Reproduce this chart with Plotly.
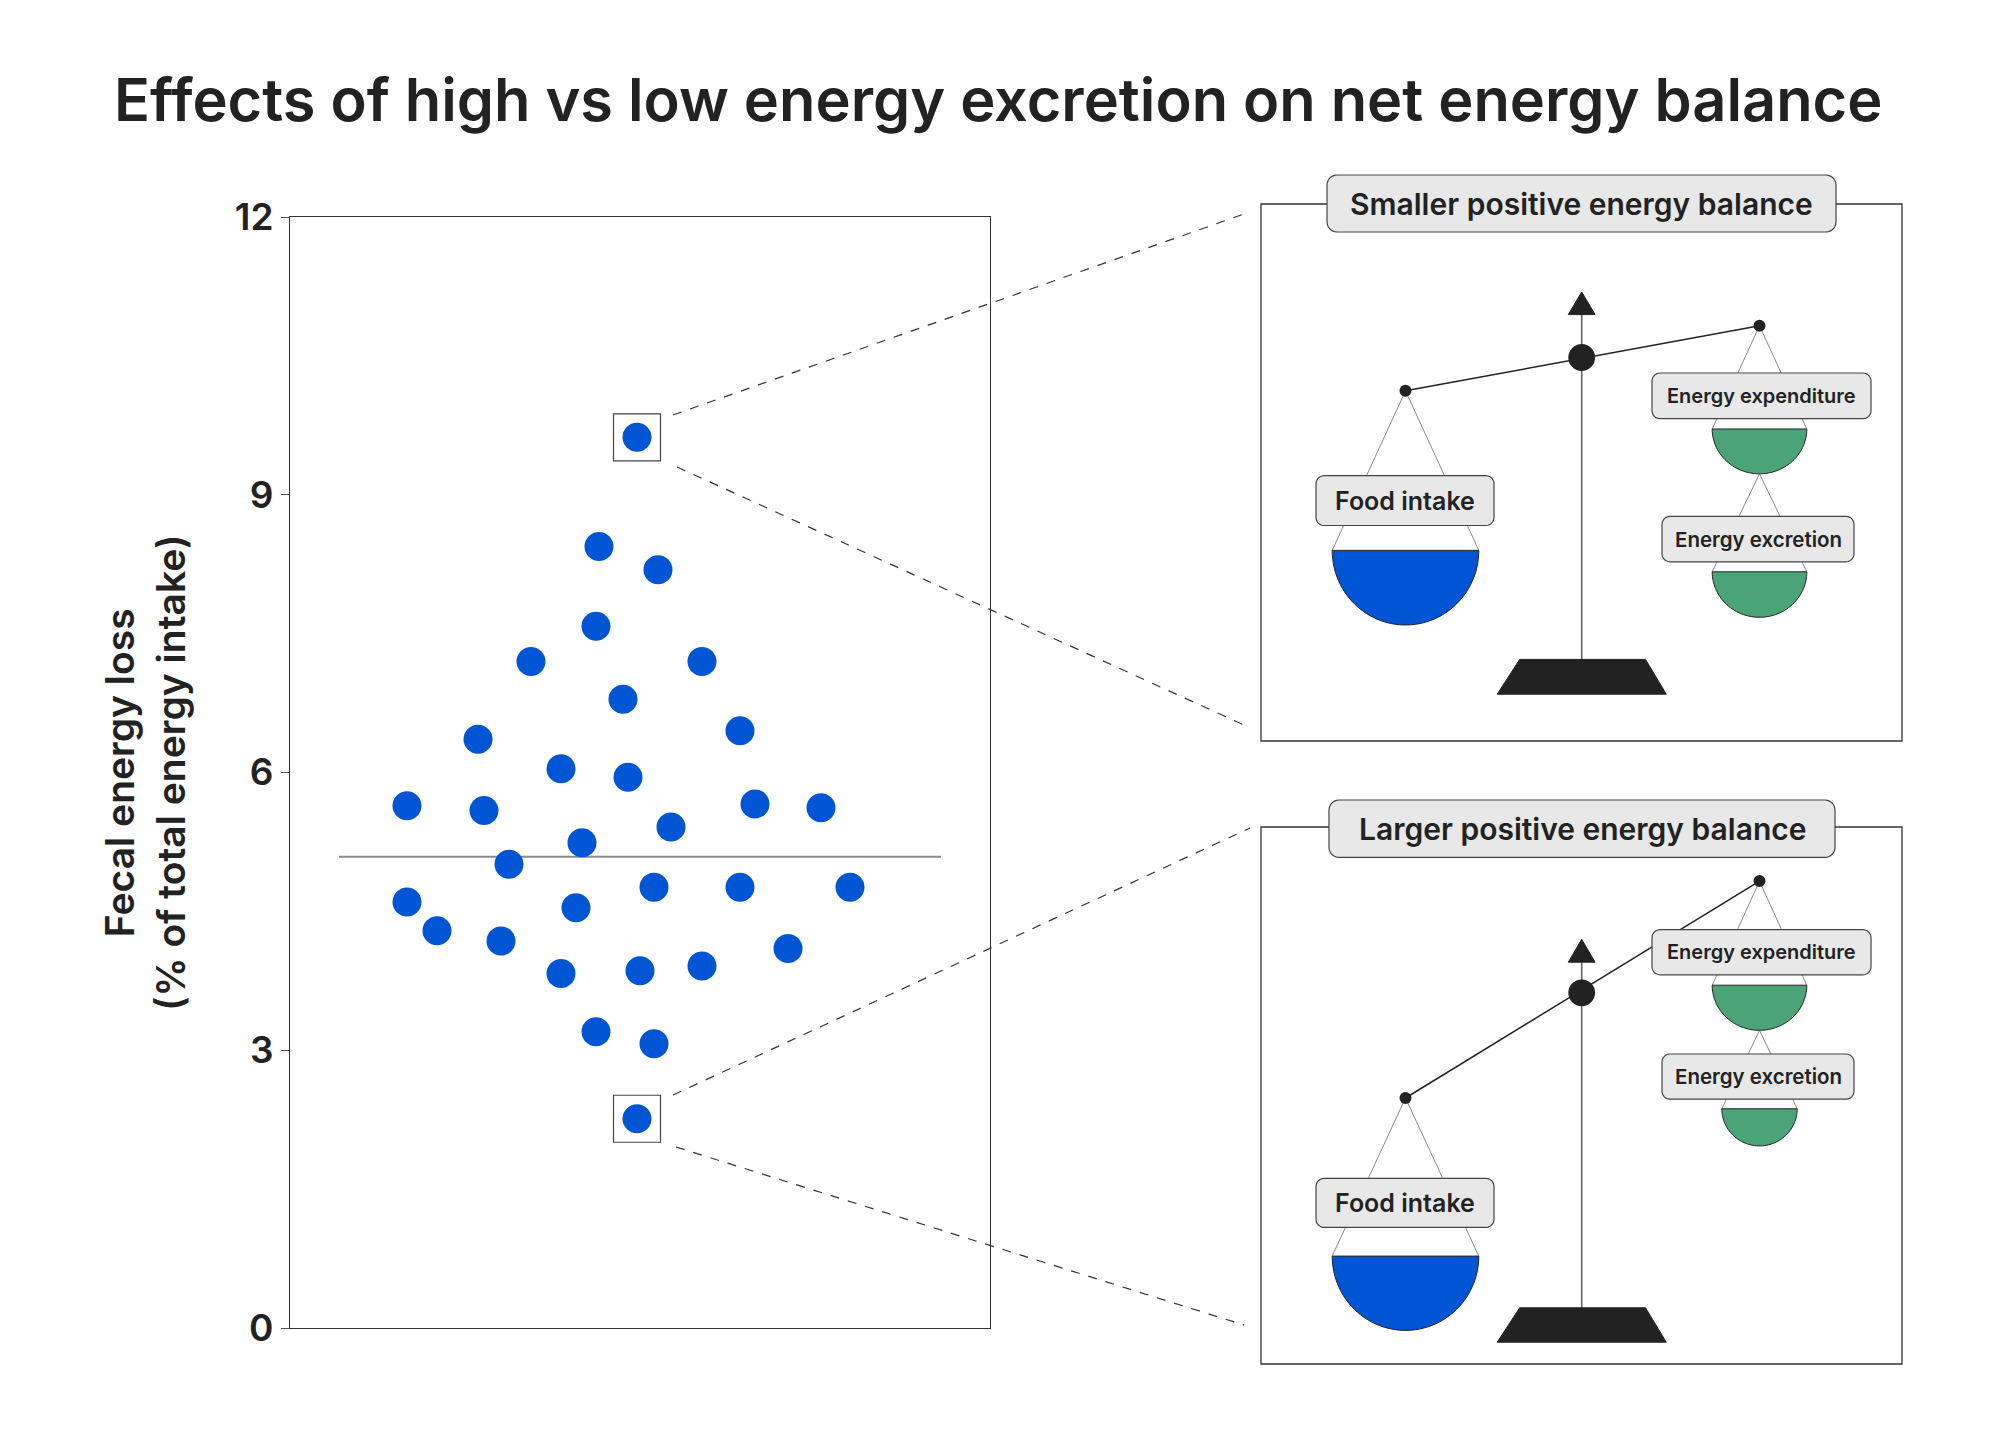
import numpy as np
import plotly.graph_objects as go

# --- data: fecal energy loss per participant (jitter x, loss y) ---
dot_x = [3.47, 3.09, 3.68, 3.06, 2.41, 4.12, 3.33, 1.88, 4.50, 2.71, 3.38,
         1.17, 1.94, 4.65, 5.31, 3.81, 2.92, 2.19, 1.17, 3.64, 4.50, 5.60,
         2.86, 1.47, 2.11, 4.98, 2.71, 3.50, 4.12, 3.06, 3.64, 3.47]
dot_y = [9.62, 8.44, 8.19, 7.58, 7.20, 7.20, 6.79, 6.36, 6.45, 6.04, 5.95,
         5.64, 5.59, 5.66, 5.62, 5.41, 5.24, 5.01, 4.60, 4.76, 4.76, 4.76,
         4.54, 4.29, 4.18, 4.10, 3.83, 3.86, 3.91, 3.20, 3.07, 2.26]
highlight_idx = [0, 31]          # the two boxed participants
ref_value = 5.09                 # horizontal reference line
ref_span = [0.49, 6.51]
y_ticks = [0, 3, 6, 9, 12]

title = "Effects of high vs low energy excretion on net energy balance"
y_title = "Fecal energy loss<br>(% of total energy intake)"
panel_titles = ["Smaller positive energy balance", "Larger positive energy balance"]
pan_labels = ["Food intake", "Energy expenditure", "Energy excretion"]

BLUE = "#0055d4"
GREEN = "#4ba478"
INK = "#222222"
FONT = "Inter, Lato, sans-serif"
W, H = 2000, 1440
OFF = 8  # page margin of the html body


def X(px):
    return (px - OFF) / W


def Y(py):
    return 1 - (py - OFF) / H


def seg(x0, y0, x1, y1, color=INK, width=1.2, dash=None):
    d = dict(type="line", xref="paper", yref="paper",
             x0=X(x0), y0=Y(y0), x1=X(x1), y1=Y(y1),
             line=dict(color=color, width=width))
    if dash:
        d["line"]["dash"] = dash
    return d


def poly(points, fill, line_color=INK, width=1):
    p = "M " + " L ".join(f"{X(a):.5f},{Y(b):.5f}" for a, b in points) + " Z"
    return dict(type="path", xref="paper", yref="paper", path=p,
                fillcolor=fill, line=dict(color=line_color, width=width))


def rrect(x0, y0, x1, y1, r=9, fill="#e8e8e8"):
    pts = []
    for cx, cy, a0 in [(x1 - r, y0 + r, -90), (x1 - r, y1 - r, 0),
                       (x0 + r, y1 - r, 90), (x0 + r, y0 + r, 180)]:
        for t in np.linspace(a0, a0 + 90, 7):
            pts.append((cx + r * np.cos(np.radians(t)), cy + r * np.sin(np.radians(t))))
    return poly(pts, fill, "#444444", 1.2)


def bowl(cx, rim, r, depth, fill):
    pts = [(cx + r * np.cos(np.radians(t)), rim + depth * np.sin(np.radians(t)))
           for t in np.linspace(0, 180, 60)]
    return poly(pts, fill, INK, 1)


def dot(cx, cy, r, fill=INK):
    return dict(type="circle", xref="paper", yref="paper",
                x0=X(cx - r), x1=X(cx + r), y0=Y(cy - r), y1=Y(cy + r),
                fillcolor=fill, line=dict(color=fill, width=0))


# --- balance illustrations (pixel geometry of the two panels) ---
panels = [
    dict(box=(1261, 204, 1902, 741), tbox=(1327, 175, 1836, 232),
         pivot=357.5, arrow=(292, 314.6), beamL=(1405.5, 390.8), beamR=(1759.5, 325.7),
         base=(659.4, 694.2), left=(550.4, 73.3, 74.6), lbl_food=(475.7, 525.5),
         r1=(429, 47.3, 44.8), lbl_exp=(373, 418.7), r2=(571.8, 47.3, 45.5),
         lbl_exc=(516.3, 561.8)),
    dict(box=(1261, 827, 1902, 1364), tbox=(1329, 800, 1835, 857.4),
         pivot=992.8, arrow=(939.3, 962.2), beamL=(1405.5, 1098), beamR=(1759.5, 881.1),
         base=(1307.8, 1342.2), left=(1256.1, 73.3, 74.3), lbl_food=(1178.4, 1227.4),
         r1=(985.2, 47.3, 45.1), lbl_exp=(929.7, 974.8), r2=(1108.8, 37.7, 37.1),
         lbl_exc=(1054, 1099.2)),
]
POLE_X = 1581.7
LBL_X = [(1316, 1494), (1652, 1871), (1662, 1854)]

shapes = []
annotations = []
for p, ptitle in zip(panels, panel_titles):
    bx0, by0, bx1, by1 = p["box"]
    shapes.append(dict(type="rect", xref="paper", yref="paper",
                       x0=X(bx0), x1=X(bx1), y0=Y(by1), y1=Y(by0),
                       line=dict(color="#333333", width=1.3)))
    # strings
    lx, ly = p["beamL"]
    rx, ry = p["beamR"]
    rim, r, dep = p["left"]
    shapes += [seg(lx, ly, lx - r, rim, "#8a8a8a", 1), seg(lx, ly, lx + r, rim, "#8a8a8a", 1)]
    rim1, r1, d1 = p["r1"]
    shapes += [seg(rx, ry, rx - r1, rim1, "#8a8a8a", 1), seg(rx, ry, rx + r1, rim1, "#8a8a8a", 1)]
    rim2, r2, d2 = p["r2"]
    shapes += [seg(rx, rim1 + d1, rx - r2, rim2, "#8a8a8a", 1),
               seg(rx, rim1 + d1, rx + r2, rim2, "#8a8a8a", 1)]
    # pole, arrow, base
    shapes.append(seg(POLE_X, p["arrow"][1], POLE_X, p["base"][0], "#666666", 1.6))
    shapes.append(poly([(POLE_X, p["arrow"][0]), (POLE_X + 13.4, p["arrow"][1]),
                        (POLE_X - 13.4, p["arrow"][1])], INK, INK, 1))
    bt, bb = p["base"]
    shapes.append(poly([(POLE_X - 62, bt), (POLE_X + 63.8, bt), (POLE_X + 84.6, bb),
                        (POLE_X - 84.5, bb)], INK, INK, 1))
    # beam
    shapes.append(seg(lx, ly, rx, ry, INK, 1.5))
    shapes += [dot(lx, ly, 6), dot(rx, ry, 6), dot(POLE_X, p["pivot"], 13.4)]
    # pans
    shapes.append(bowl(lx, rim, r, dep, BLUE))
    shapes.append(bowl(rx, rim1, r1, d1, GREEN))
    shapes.append(bowl(rx, rim2, r2, d2, GREEN))
    # labels
    tx0, ty0, tx1, ty1 = p["tbox"]
    shapes.append(rrect(tx0, ty0, tx1, ty1, 10))
    annotations.append(dict(x=X((tx0 + tx1) / 2), y=Y((ty0 + ty1) / 2), text=ptitle,
                            font=dict(size=30, color=INK, family=FONT, weight=600)))
    for (ya, yb), (xa, xb), txt, fs in zip(
            [p["lbl_food"], p["lbl_exp"], p["lbl_exc"]], LBL_X, pan_labels, [25, 20, 20.5]):
        shapes.append(rrect(xa, ya, xb, yb, 8))
        annotations.append(dict(x=X((xa + xb) / 2), y=Y((ya + yb) / 2), text=txt,
                                font=dict(size=fs, color=INK, family=FONT, weight=600)))

# dashed connectors from the boxed dots to the panels
shapes += [seg(673, 415, 1244, 214, "#333333", 1.2, "dash"),
           seg(677, 467, 1244, 725, "#333333", 1.2, "dash"),
           seg(673, 1095, 1250, 828, "#333333", 1.2, "dash"),
           seg(676, 1147, 1244, 1325, "#333333", 1.2, "dash")]

for a in annotations:
    a.update(xref="paper", yref="paper", showarrow=False, xanchor="center", yanchor="middle")

annotations.append(dict(x=X(998), y=Y(99), xref="paper", yref="paper", showarrow=False,
                        xanchor="center", yanchor="middle",
                        text=title, font=dict(size=59.5, color=INK, family=FONT, weight=600)))
annotations.append(dict(x=X(145), y=Y(773), xref="paper", yref="paper", showarrow=False,
                        xanchor="center", yanchor="middle",
                        text=y_title, textangle=-90,
                        font=dict(size=39, color=INK, family=FONT, weight=600)))

fig = go.Figure()
fig.add_trace(go.Scatter(x=ref_span, y=[ref_value, ref_value], mode="lines",
                         line=dict(color="#8c8c8c", width=2), hoverinfo="skip"))
fig.add_trace(go.Scatter(x=dot_x, y=dot_y, mode="markers",
                         marker=dict(size=29, color=BLUE, line=dict(width=0))))
fig.add_trace(go.Scatter(x=[dot_x[i] for i in highlight_idx], y=[dot_y[i] for i in highlight_idx],
                         mode="markers",
                         marker=dict(symbol="square-open", size=47,
                                     color="#444444", line=dict(width=1.2))))

fig.update_layout(
    width=W, height=H, showlegend=False,
    paper_bgcolor="white", plot_bgcolor="white",
    margin=dict(l=0, r=0, t=0, b=0, autoexpand=False),
    font=dict(family=FONT, color=INK),
    xaxis=dict(domain=[X(290), X(990)], range=[0, 7], showticklabels=False, ticks="",
               showgrid=False, zeroline=False, showline=True, mirror=True,
               linecolor="#333333", linewidth=1.2, fixedrange=True, automargin=False),
    yaxis=dict(domain=[Y(1328), Y(217)], range=[0, 12], tickvals=y_ticks,
               ticks="outside", ticklen=8, tickcolor="#555555",
               tickfont=dict(size=37, color=INK, family=FONT, weight=600),
               showgrid=False, zeroline=False, showline=True, mirror=True,
               linecolor="#333333", linewidth=1.2, automargin=False),
    shapes=shapes,
    annotations=annotations,
)

fig.write_html("out.html")
